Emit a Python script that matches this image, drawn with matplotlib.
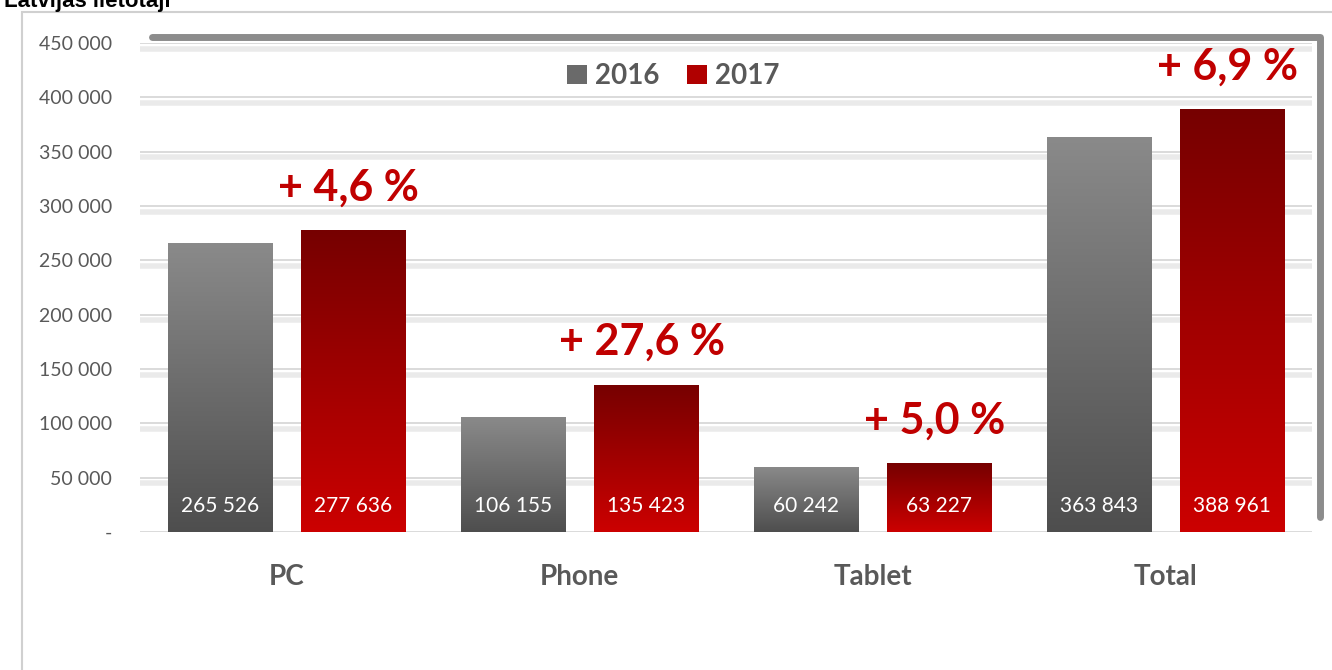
import numpy as np
import matplotlib
matplotlib.use("Agg")
import matplotlib.pyplot as plt
import matplotlib.patheffects as pe
from matplotlib.patches import Rectangle
from matplotlib.colors import LinearSegmentedColormap

# data
categories = ["PC", "Phone", "Tablet", "Total"]
years = ["2016", "2017"]
values_2016 = [265526, 106155, 60242, 363843]
values_2017 = [277636, 135423, 63227, 388961]
growth_labels = ["+ 4,6 %", "+ 27,6 %", "+ 5,0 %", "+ 6,9 %"]
y_ticks = [0, 50000, 100000, 150000, 200000, 250000, 300000, 350000, 400000, 450000]

plt.rcParams["font.family"] = ["Lato", "DejaVu Sans"]

TEXT_GRAY = "#595959"
RED = "#c00000"

cmap_gray = LinearSegmentedColormap.from_list("g", ["#4e4e4e", "#8a8a8a"])
cmap_red = LinearSegmentedColormap.from_list("r", ["#cc0000", "#760000"])


def fmt(v):
    if v == 0:
        return "-"
    return f"{v:,.0f}".replace(",", " ")


def gradient_fill(ax, bars, cmap):
    grad = np.linspace(0, 1, 256).reshape(-1, 1)
    for b in bars:
        x0, y0 = b.get_x(), b.get_y()
        w, h = b.get_width(), b.get_height()
        im = ax.imshow(grad, extent=(x0, x0 + w, y0, y0 + h), origin="lower",
                       cmap=cmap, aspect="auto", zorder=3)
        im.set_clip_path(b)
        b.set_facecolor("none")


fig = plt.figure(figsize=(13.32, 6.7), dpi=100)

# outer frame
fig.patches.append(Rectangle((22 / 1332, -0.01), 1.0, 1 - 12 / 670 + 0.01,
                             transform=fig.transFigure, fill=False,
                             edgecolor="#d0d0d0", linewidth=1.5, zorder=0))

fig.text(0.003, 1 - 7 / 670, "Latvijas lietotāji", fontsize=16, fontweight="bold",
         family=["Liberation Sans", "DejaVu Sans"], va="baseline", ha="left")

ax = fig.add_axes([140 / 1332, 1 - 532 / 670, 1172 / 1332, 489 / 670])

x = np.arange(len(categories))
width = 0.358
offset = 0.227

bars16 = ax.bar(x - offset, values_2016, width, color="#6e6e6e", label=years[0],
                zorder=3, edgecolor="none")
bars17 = ax.bar(x + offset, values_2017, width, color="#b00000", label=years[1],
                zorder=3, edgecolor="none")

ax.set_xlim(-0.5, 3.5)
ax.set_ylim(0, 450000)
ax.set_yticks(y_ticks)
ax.set_yticklabels([fmt(v) for v in y_ticks])

# legend handles get their plain colours, then bars get the gradients
handles = [Rectangle((0, 0), 1, 1, facecolor="#6a6a6a"),
           Rectangle((0, 0), 1, 1, facecolor="#b00000")]
leg = ax.legend(handles, years, loc="upper center", bbox_to_anchor=(0.455, 1.01),
                ncol=2, frameon=False, handlelength=0.7, handleheight=0.7,
                handletextpad=0.3, columnspacing=1.0,
                prop={"size": 20, "weight": "bold"})
for t in leg.get_texts():
    t.set_color(TEXT_GRAY)

gradient_fill(ax, bars16, cmap_gray)
gradient_fill(ax, bars17, cmap_red)

# value labels inside bars
for bars, vals in [(bars16, values_2016), (bars17, values_2017)]:
    for b, v in zip(bars, vals):
        ax.annotate(fmt(v), (b.get_x() + b.get_width() / 2, 0),
                    xytext=(0, 19), textcoords="offset points", ha="center",
                    va="center", color="white", fontsize=15, zorder=5)

# growth labels above 2017 bars
for b, lab in zip(bars17, growth_labels):
    ax.annotate(lab, (b.get_x() + b.get_width() / 2, b.get_height()),
                xytext=(-3, 31), textcoords="offset points", ha="center",
                va="center", color=RED, fontsize=31, fontweight="bold", zorder=5)

ax.set_xticks(x)
ax.set_xticklabels(categories, fontsize=20, fontweight="bold", color=TEXT_GRAY)
ax.tick_params(axis="x", length=0, pad=23)
ax.tick_params(axis="y", length=0, pad=20, labelsize=14, labelcolor=TEXT_GRAY)

# gridlines with soft shadow
ax.yaxis.grid(True, color="#d4d4d4", linewidth=1.2, zorder=1)
for gl in ax.get_ygridlines():
    gl.set_path_effects([pe.SimpleLineShadow(offset=(0, -4), shadow_color="#c4c4c4",
                                             alpha=0.35, linewidth=4),
                         pe.Normal()])
ax.set_axisbelow(True)

for s in ax.spines.values():
    s.set_visible(False)

# dark shadow frame along top and right of plot area
ax.plot([0.01, 1.007, 1.007], [1.012, 1.012, 0.03], transform=ax.transAxes,
        color="#808080", linewidth=5, clip_on=False, zorder=0, alpha=0.9,
        solid_capstyle="round")

fig.savefig("out.png", dpi=100)
